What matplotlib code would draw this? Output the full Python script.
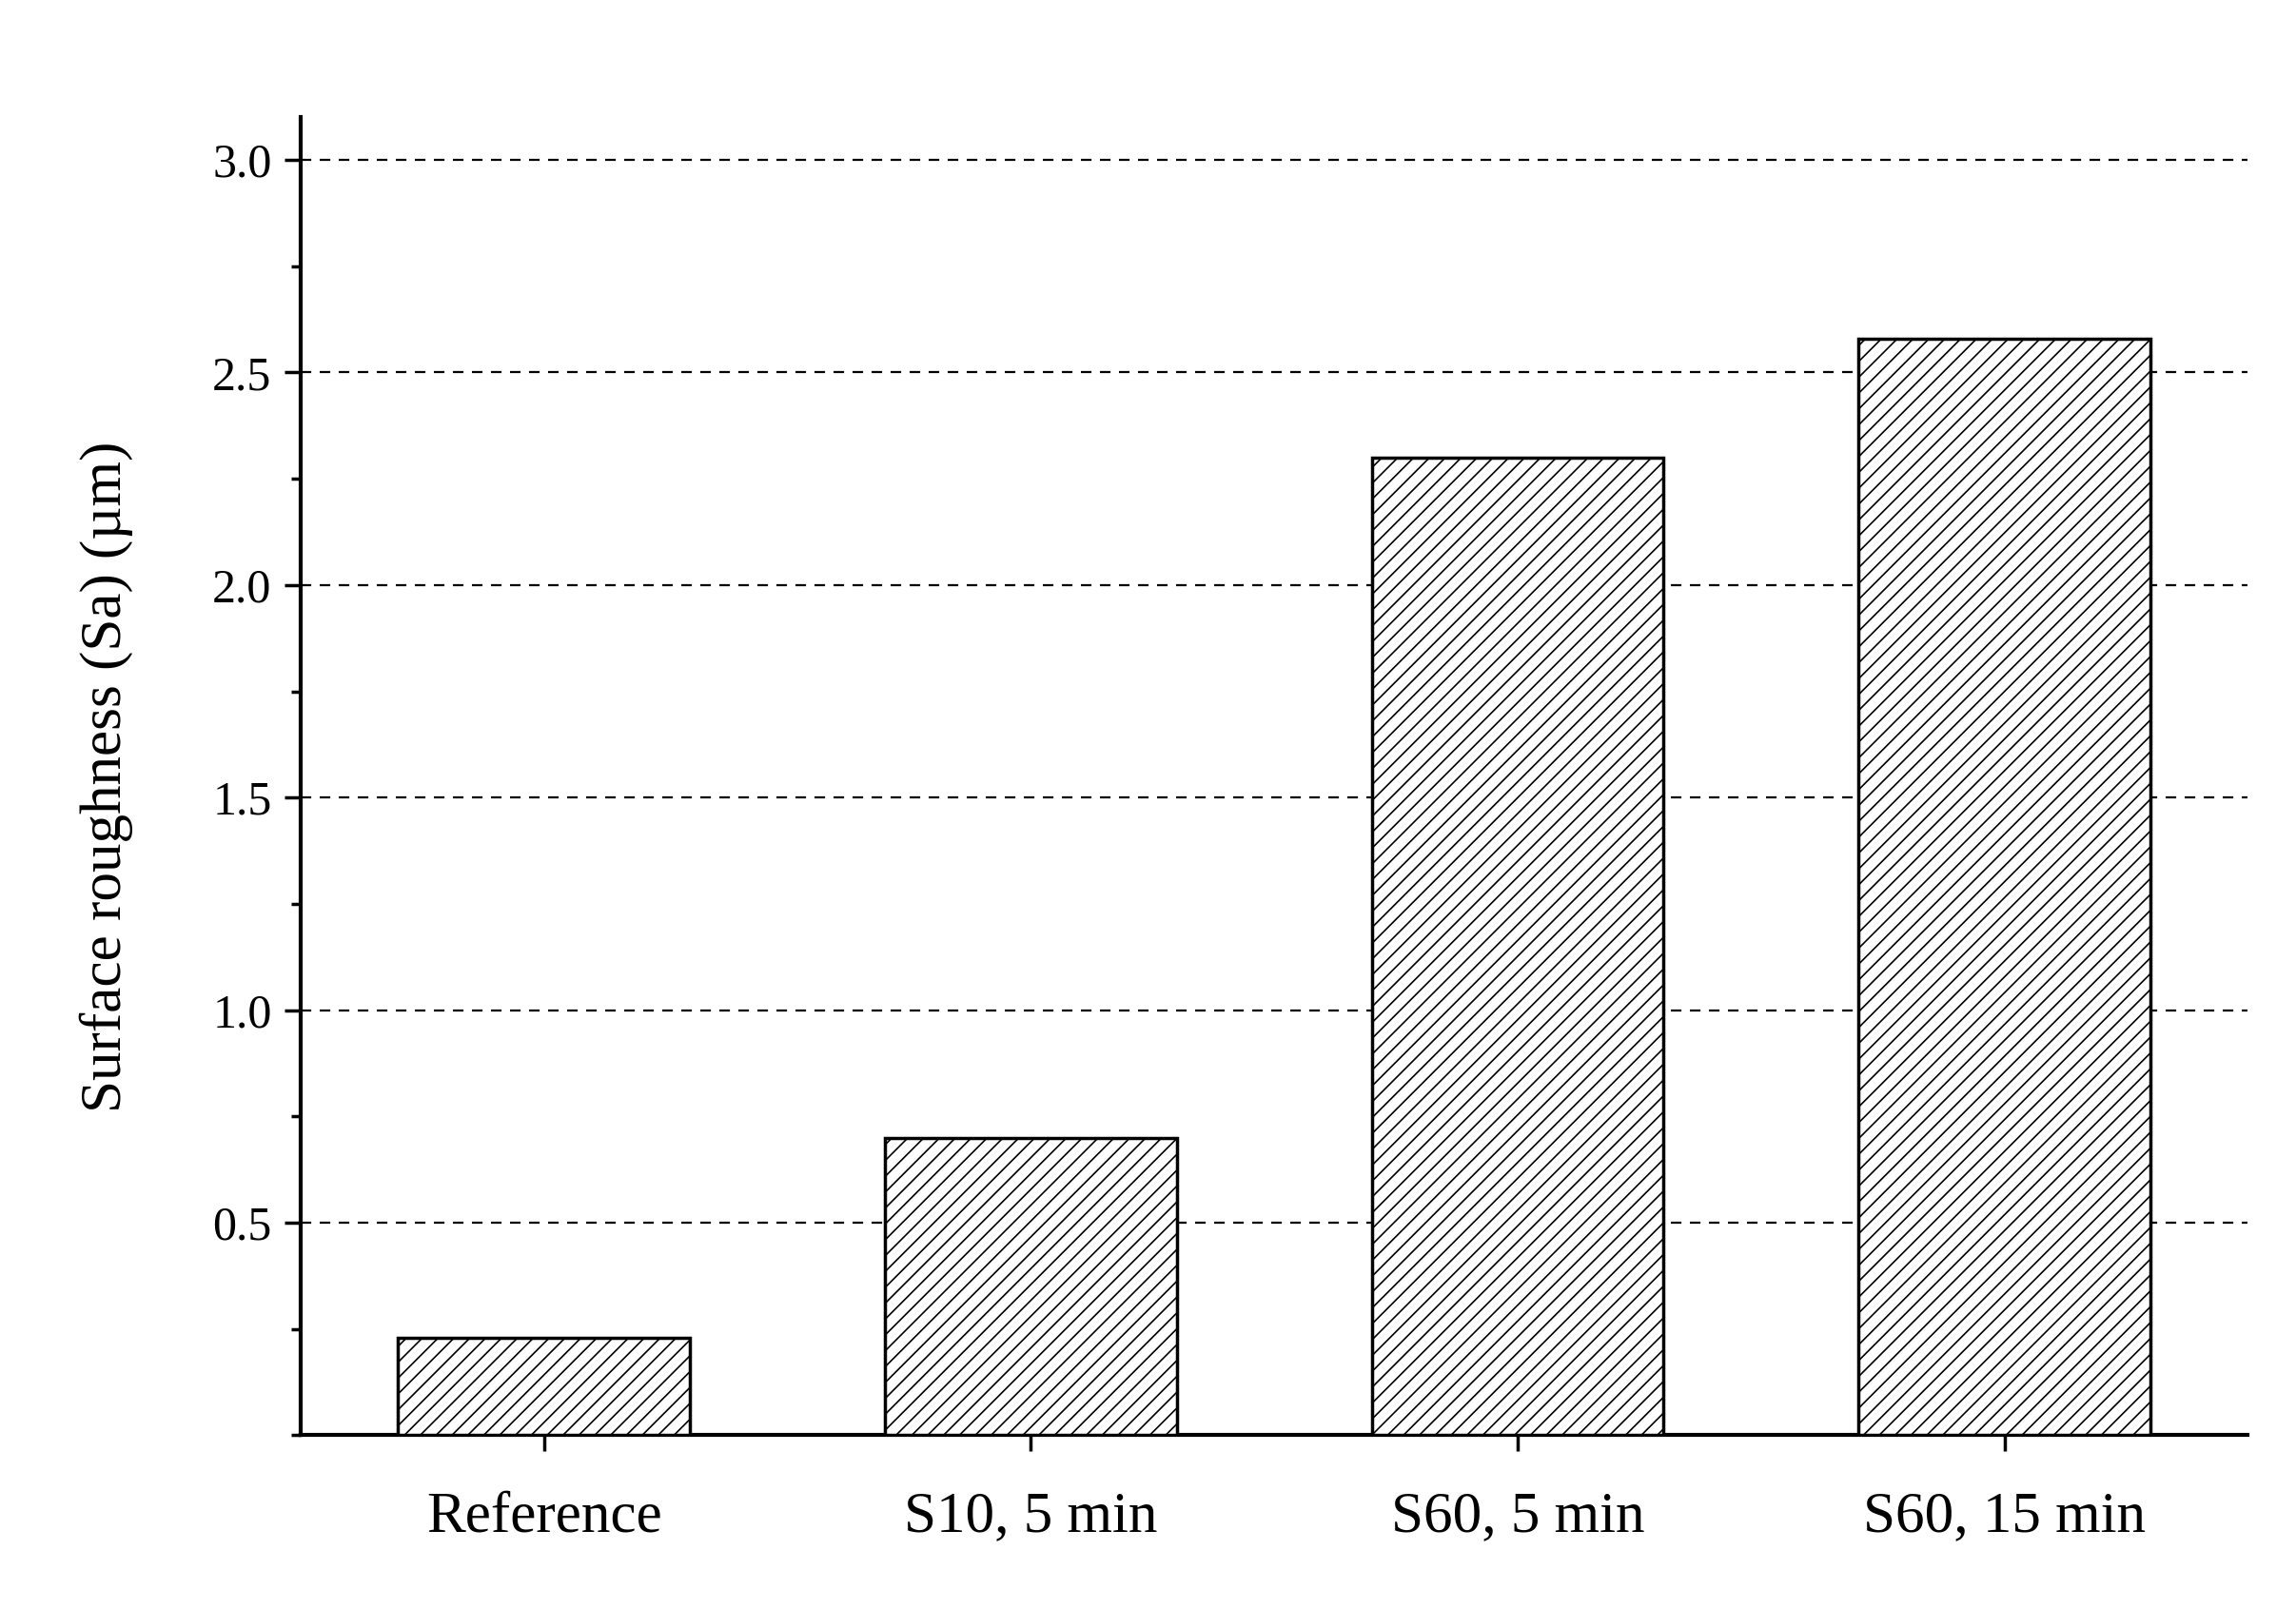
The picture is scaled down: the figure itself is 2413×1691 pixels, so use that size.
import matplotlib
matplotlib.use("Agg")
import matplotlib.pyplot as plt
from matplotlib.ticker import MultipleLocator

categories = ["Reference", "S10, 5 min", "S60, 5 min", "S60, 15 min"]
sa_values = [0.23, 0.70, 2.30, 2.58]

plt.rcParams["font.family"] = ["Liberation Serif", "DejaVu Serif"]
plt.rcParams["hatch.linewidth"] = 1.2

fig = plt.figure(figsize=(24.13, 16.91), dpi=100)
ax = fig.add_axes([0.131, 0.108, 0.848, 0.819])

x = list(range(1, len(categories) + 1))
ax.bar(x, sa_values, width=0.6, facecolor="white", edgecolor="black",
       linewidth=2.5, hatch="//", zorder=3)

ax.set_xlim(0.5, 4.5)
ax.set_ylim(0, 3.1)
ax.set_xticks(x)
ax.set_xticklabels(categories, fontsize=44)
ax.yaxis.set_major_locator(MultipleLocator(0.5))
ax.yaxis.set_minor_locator(MultipleLocator(0.25))
ax.set_yticks([0.5, 1.0, 1.5, 2.0, 2.5, 3.0])
ax.set_yticklabels(["0.5", "1.0", "1.5", "2.0", "2.5", "3.0"], fontsize=36)
ax.tick_params(axis="both", which="major", direction="out", length=12, width=2.5)
ax.tick_params(axis="y", which="minor", direction="out", length=7, width=2.5)
ax.tick_params(axis="x", pad=30)
ax.tick_params(axis="y", pad=10)
ax.set_ylabel("Surface roughness (Sa) (µm)", fontsize=44, labelpad=60)

for s in ["top", "right"]:
    ax.spines[s].set_visible(False)
for s in ["left", "bottom"]:
    ax.spines[s].set_linewidth(3)

ax.grid(axis="y", which="major", linestyle=(0, (5, 4)), color="black", linewidth=1.6, zorder=0)

fig.savefig("out.png", dpi=100, facecolor="white")
